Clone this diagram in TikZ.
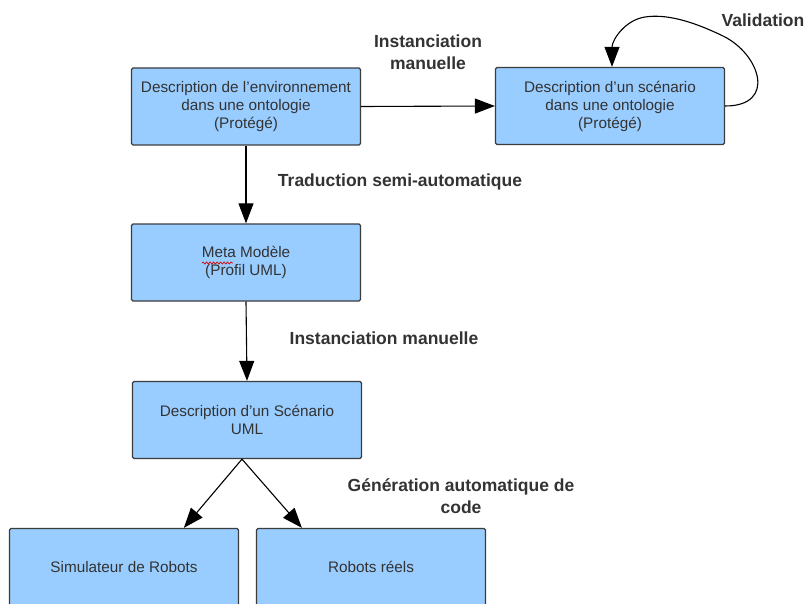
\documentclass[tikz,border=0pt]{standalone}
\usepackage{fontspec}
\setmainfont{Liberation Sans}
\usetikzlibrary{arrows.meta,calc,decorations.pathmorphing}
\definecolor{boxfill}{RGB}{153,204,255}
\definecolor{boxline}{RGB}{60,60,60}
\definecolor{txtgray}{RGB}{51,51,51}
\newcommand{\apos}{{\char"0027}}
\tikzset{
  stepbox/.style={draw=boxline, fill=boxfill, line width=1.3pt, rounded corners=1.5pt,
    minimum width=229pt, minimum height=77pt, inner sep=0pt, align=center,
    text=txtgray, font=\fontsize{15.3}{18}\selectfont},
  flowlabel/.style={text=txtgray, align=center, inner sep=0pt,
    font=\fontsize{17.5}{21.5}\selectfont\bfseries},
  bigtip/.style={-{Triangle[length=20pt,width=15pt]}},
  flowarrow/.style={draw=black, line width=1.1pt, bigtip},
}
\begin{document}
\begin{tikzpicture}[x=1pt,y=-1pt]
  \clip (0,0) rectangle (808,604);
  \fill[white] (0,0) rectangle (808,604);

  % boxes
  \node[stepbox] (env) at (246,106.5) {Description de l\apos environnement\\dans une ontologie\\(Protégé)};
  \node[stepbox] (scen) at (610,106) {Description d\apos un scénario\\dans une ontologie\\(Protégé)};
  \node[stepbox] (meta) at (246,262.5) {Meta Modèle\\(Profil UML)};
  \node[stepbox] (uml) at (247,420) {Description d\apos un Scénario\\UML};
  \node[stepbox] (sim) at (124,567) {Simulateur de Robots};
  \node[stepbox] (real) at (371,567) {Robots réels};

  % spell-check squiggle under "Meta"
  \draw[red!85!black, line width=0.7pt, decorate,
        decoration={snake, amplitude=1pt, segment length=3.5pt}]
        (202,263) -- (233,263);

  % labels
  \node[flowlabel] (l1) at (428,52) {Instanciation\\manuelle};
  \node[flowlabel] (l2) at (763,20) {Validation};
  \node[flowlabel] (l3) at (400,182) {Traduction semi-automatique};
  \node[flowlabel] (l4) at (384,338) {Instanciation manuelle};
  \node[flowlabel] (l5) at (461,496) {Génération automatique de\\code};

  % connectors
  \draw[flowarrow] (env.east) -- (scen.west);
  \draw[flowarrow] (env.south) -- (meta.north);
  \draw[flowarrow] (meta.south) -- (uml.north);
  \coordinate (split) at ([xshift=-5pt]uml.south);
  \draw[flowarrow] (split) -- ($(sim.north west)!0.76!(sim.north east)$);
  \draw[flowarrow] (split) -- ($(real.north west)!0.20!(real.north east)$);
  \draw[line width=1.1pt, bigtip]
    (scen.east) .. controls +(52,0) and (760,54) .. (723,36)
    .. controls (690,20) and (665,14) .. (645,17)
    .. controls (625,20) and (612,40) .. ([xshift=2pt]scen.north);
\end{tikzpicture}
\end{document}
